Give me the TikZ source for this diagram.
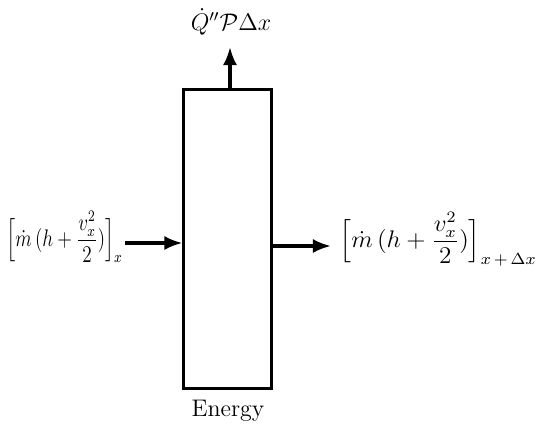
\documentclass[tikz,border=0pt]{standalone}
\usepackage{amsmath}
\usepackage{graphicx}
\usetikzlibrary{arrows.meta}
\begin{document}
\begin{tikzpicture}[x=0.5pt,y=-0.5pt,
  flow/.style={line width=1.6pt,-{Latex[length=9pt,width=7pt]}},
  lbl/.style={inner sep=0pt,font=\fontsize{12}{14}\selectfont}]
\useasboundingbox (0,0) rectangle (538,430);
\node[draw,line width=1.5pt,minimum width=44pt,minimum height=149.5pt,inner sep=0pt] (box) at (228,238.5) {};
\node[lbl] (energy) at (228,411) {Energy};
\node[lbl] (q) at (231,22) {$\dot{Q}''\mathcal{P}\Delta x$};
\coordinate (qs) at (230,89);
\coordinate (qtip) at (230,47);
\draw[flow] (qs) -- (qtip);
\node[lbl,anchor=east] (lin) at (123,237) {\scalebox{0.8}[1]{$\displaystyle\Bigl[\dot{m}\,(h+\frac{v_x^2}{2})\Bigr]_x$}};
\coordinate (ls) at (125,243);
\draw[flow] (ls) -- (box.west |- ls);
\node[lbl,anchor=west] (rout) at (339,239) {\scalebox{1.05}[1]{$\displaystyle\Bigl[\dot{m}\,(h+\frac{v_x^2}{2})\Bigr]_{x\,+\,\Delta x}$}};
\coordinate (rs) at (272,246);
\draw[flow] (box.east |- rs) -- (331,246);
\end{tikzpicture}
\end{document}
